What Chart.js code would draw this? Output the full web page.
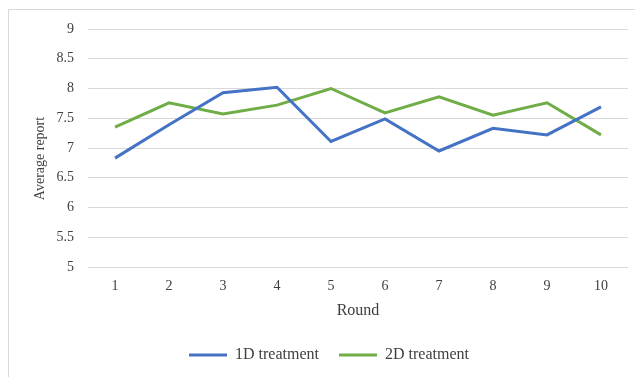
<!DOCTYPE html>
<html>
<head>
<meta charset="utf-8">
<script src="https://cdn.jsdelivr.net/npm/chart.js@4"></script>
<style>
  html, body { margin: 0; padding: 0; background: #fff; }
  #wrap { position: relative; width: 635px; height: 377px; overflow: hidden; }
  #frame { position: absolute; left: 8px; top: 9px; width: 700px; height: 500px; border: 1px solid #d9d9d9; }
  #chart { position: absolute; left: 0; top: 0; }
</style>
</head>
<body>
<div id="wrap">
  <div id="frame"></div>
  <canvas id="chart" width="635" height="377"></canvas>
</div>
<script>
const rounds = ['1', '2', '3', '4', '5', '6', '7', '8', '9', '10'];
const oneD = [6.83, 7.39, 7.93, 8.02, 7.11, 7.49, 6.95, 7.33, 7.22, 7.69];
const twoD = [7.35, 7.76, 7.57, 7.72, 8.0, 7.59, 7.86, 7.55, 7.76, 7.22];

const serif = "'Liberation Serif', 'Times New Roman', serif";
const textColor = '#404040';

const ctx = document.getElementById('chart').getContext('2d');
new Chart(ctx, {
    type: 'line',
    data: {
        labels: rounds,
        datasets: [
            { label: '1D treatment', data: oneD, borderColor: '#4472C4', backgroundColor: '#4472C4', borderWidth: 3, pointRadius: 0, tension: 0 },
            { label: '2D treatment', data: twoD, borderColor: '#70AD47', backgroundColor: '#70AD47', borderWidth: 3, pointRadius: 0, tension: 0 }
        ]
    },
    options: {
        responsive: false,
        animation: false,
        layout: { padding: { top: 29, right: 7, bottom: 4, left: 30 } },
        scales: {
            x: {
                offset: true,
                grid: { display: false, drawTicks: false },
                border: { display: false },
                ticks: { padding: 11, color: textColor, font: { family: serif, size: 14 } },
                title: { display: true, text: 'Round', color: textColor, padding: { top: 0, bottom: 7 }, font: { family: serif, size: 16 } },
                afterFit: scale => { scale.height = 60; }
            },
            y: {
                min: 5,
                max: 9,
                ticks: { stepSize: 0.5, padding: 14, color: textColor, font: { family: serif, size: 14 },
                    callback: v => String(v) },
                grid: { color: '#d9d9d9', lineWidth: 1, drawTicks: false },
                border: { display: false },
                // trailing spaces nudge the rotated title down a little
                title: { display: true, text: 'Average report\u00a0\u00a0\u00a0\u00a0\u00a0\u00a0', color: textColor, padding: { top: 1.6, bottom: 0 }, font: { family: serif, size: 14 } },
                afterFit: scale => { scale.width = 58; }
            }
        },
        plugins: {
            legend: {
                position: 'bottom',
                labels: {
                    boxWidth: 38,
                    boxHeight: 3,
                    padding: 20,
                    color: textColor,
                    font: { family: serif, size: 16 },
                    generateLabels: chart => Chart.defaults.plugins.legend.labels.generateLabels(chart).map(l => ({ ...l, lineWidth: 0 }))
                }
            },
            tooltip: { enabled: false }
        }
    }
});
</script>
</body>
</html>
